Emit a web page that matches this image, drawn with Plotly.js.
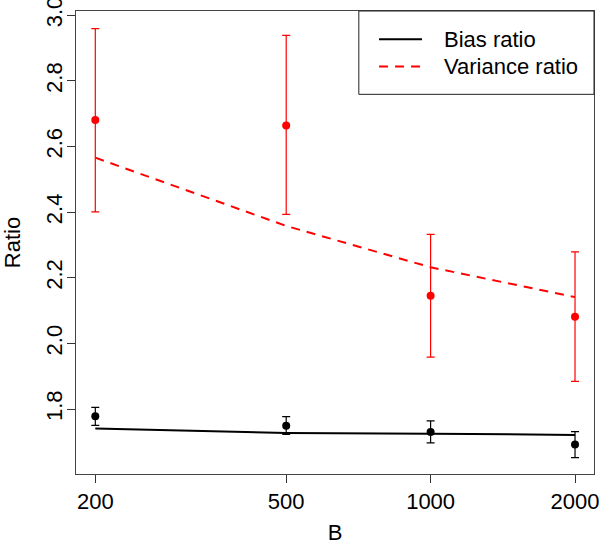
<!DOCTYPE html>
<html>
<head>
<meta charset="utf-8">
<script src="https://cdn.plot.ly/plotly-3.0.1.min.js"></script>
<style>
  body { margin: 0; background: #fff; }
  #plot { width: 600px; height: 545px; }
</style>
</head>
<body>
<div id="plot"></div>
<script>
var B = [200, 500, 1000, 2000];

// points with error bars
var bias_pt = [1.778, 1.749, 1.730, 1.692];
var bias_hi = [1.805, 1.777, 1.764, 1.731];
var bias_lo = [1.750, 1.723, 1.697, 1.652];
var var_pt = [2.681, 2.664, 2.145, 2.081];
var var_hi = [2.959, 2.939, 2.332, 2.279];
var var_lo = [2.401, 2.393, 1.958, 1.884];

// fitted curves
var bias_fit = [1.741, 1.727, 1.725, 1.721];
var var_fit = [2.566, 2.358, 2.232, 2.141];

var yticks = [1.8, 2.0, 2.2, 2.4, 2.6, 2.8, 3.0];
var ylabels = ["1.8", "2.0", "2.2", "2.4", "2.6", "2.8", "3.0"];
var xlabels = ["200", "500", "1000", "2000"];

var fnt = "Liberation Sans, Arial, sans-serif";
var fsize = 22;

function diff(a, b) {
	var out = [];
	for (var i = 0; i < a.length; i++) out.push(Math.abs(a[i] - b[i]));
	return out;
}

var pts_var = {
	mode: "markers",
	x: B,
	y: var_pt,
	marker: { color: "#ff0000", size: 8 },
	error_y: {
		type: "data",
		symmetric: false,
		array: diff(var_hi, var_pt),
		arrayminus: diff(var_pt, var_lo),
		color: "#ff0000",
		thickness: 1.2,
		width: 4
	},
	showlegend: false
};

var pts_bias = {
	mode: "markers",
	x: B,
	y: bias_pt,
	marker: { color: "#000000", size: 8 },
	error_y: {
		type: "data",
		symmetric: false,
		array: diff(bias_hi, bias_pt),
		arrayminus: diff(bias_pt, bias_lo),
		color: "#000000",
		thickness: 1.2,
		width: 4
	},
	showlegend: false
};

var line_bias = {
	mode: "lines",
	x: B,
	y: bias_fit,
	line: { color: "#000000", width: 2 },
	showlegend: false
};

var line_var = {
	mode: "lines",
	x: B,
	y: var_fit,
	line: { color: "#ff0000", width: 2, dash: "9px,7px" },
	showlegend: false
};

var layout = {
	width: 600,
	height: 545,
	paper_bgcolor: "#ffffff",
	plot_bgcolor: "#ffffff",
	margin: { l: 76, r: 6, t: 11, b: 71 },
	font: { family: fnt, size: fsize, color: "#000000" },
	xaxis: {
		type: "log",
		range: [2.2608, 3.3406],
		tickvals: B,
		ticktext: xlabels,
		ticklabeloverflow: "allow",
		ticks: "outside",
		ticklen: 8,
		tickcolor: "#333333",
		showline: true,
		mirror: true,
		linecolor: "#444444",
		linewidth: 1,
		showgrid: false,
		zeroline: false,
		title: { text: "B", standoff: 18, font: { size: fsize } }
	},
	yaxis: {
		range: [1.602, 3.013],
		tickvals: yticks,
		ticktext: ylabels,
		tickangle: -90,
		ticklabeloverflow: "allow",
		ticklabelstandoff: -4,
		ticks: "outside",
		ticklen: 8,
		tickcolor: "#333333",
		showline: true,
		mirror: true,
		linecolor: "#444444",
		linewidth: 1,
		showgrid: false,
		zeroline: false,
		title: { text: "Ratio", standoff: 20, font: { size: fsize } }
	},
	shapes: [
		// legend box
		{ type: "rect", xref: "paper", yref: "paper", x0: 0.546, x1: 1, y0: 0.82, y1: 1,
		  line: { color: "#222222", width: 1 }, fillcolor: "#ffffff" },
		{ type: "line", xref: "paper", yref: "paper", x0: 0.585, x1: 0.668, y0: 0.939, y1: 0.939,
		  line: { color: "#000000", width: 2 } },
		{ type: "line", xref: "paper", yref: "paper", x0: 0.585, x1: 0.668, y0: 0.880, y1: 0.880,
		  line: { color: "#ff0000", width: 2, dash: "9px,7px" } }
	],
	annotations: [
		{ xref: "paper", yref: "paper", x: 0.706, y: 0.939, xanchor: "left", yanchor: "middle",
		  text: "Bias ratio", showarrow: false, font: { size: fsize } },
		{ xref: "paper", yref: "paper", x: 0.706, y: 0.880, xanchor: "left", yanchor: "middle",
		  text: "Variance ratio", showarrow: false, font: { size: fsize } }
	],
	showlegend: false
};

Plotly.newPlot("plot", [line_var, line_bias, pts_var, pts_bias], layout, {
	displayModeBar: false,
	staticPlot: true
});
</script>
</body>
</html>
